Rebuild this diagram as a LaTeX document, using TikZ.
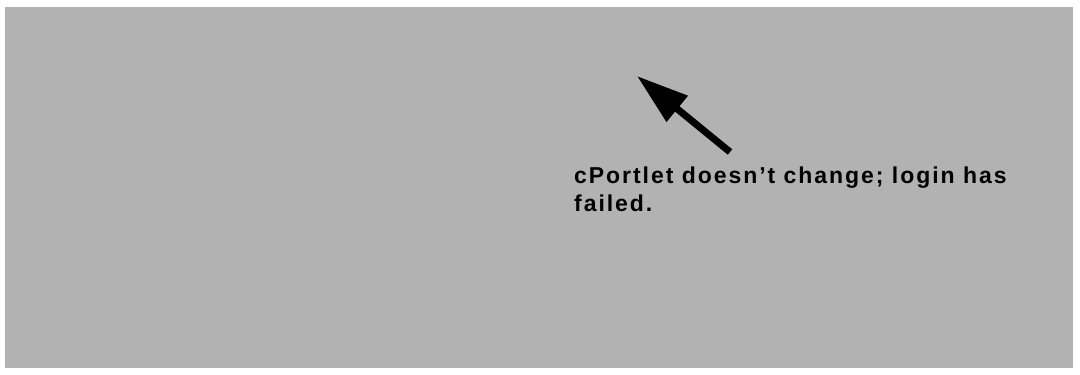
\documentclass[tikz,border=0pt]{standalone}
\usepackage{fontspec}
\setmainfont{Liberation Sans}[LetterSpace=8.5]
\usetikzlibrary{arrows.meta}
\definecolor{panel}{RGB}{178,178,178}
\tikzset{
  note/.style={anchor=base west, inner sep=0pt, align=left, font=\bfseries\fontsize{23}{28}\selectfont, text=black},
  pointer/.style={line width=7pt, -{Triangle[length=52pt,width=32pt]}, black}
}
\begin{document}
\begin{tikzpicture}[x=1pt,y=-1pt]
\useasboundingbox (0,0) rectangle (1080,375);
\fill[panel] (5,7) rectangle (1073,368);
\node[note] (msg) at (574,211) {cPortlet doesn’t change; login has\\failed.};
\coordinate (tail) at (730,152);
\coordinate (tip) at (637,76);
\draw[pointer] (tail) -- (tip);
\end{tikzpicture}
\end{document}
